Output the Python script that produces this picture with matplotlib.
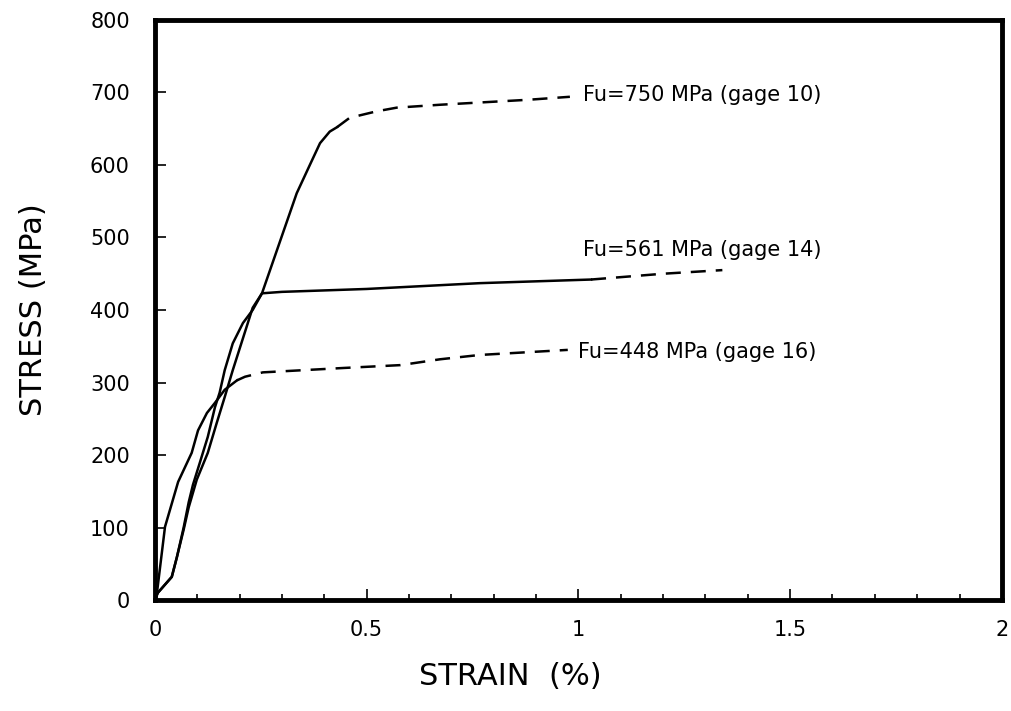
import matplotlib.pyplot as plt
from matplotlib.ticker import MultipleLocator

# gage 10 (Fu=750 MPa)
g10_x = [0, 0.007, 0.040, 0.052, 0.068, 0.080, 0.099, 0.125, 0.146, 0.165, 0.184, 0.231, 0.253, 0.335, 0.366, 0.390, 0.413, 0.430]
g10_y = [0, 10, 32, 59, 97, 128, 166, 203, 244, 280, 317, 403, 423, 561, 600, 630, 646, 652]
g10_dx = [0.430, 0.46, 0.524, 0.571, 0.673, 0.885, 0.98]
g10_dy = [652, 665, 674, 679, 683, 690, 694]

# gage 14 (Fu=561 MPa)
g14_x = [0, 0.007, 0.040, 0.052, 0.068, 0.080, 0.090, 0.106, 0.125, 0.142, 0.153, 0.165, 0.184, 0.208, 0.231, 0.253, 0.30, 0.50, 0.767, 1.03]
g14_y = [0, 10, 32, 59, 100, 135, 159, 189, 225, 266, 286, 317, 354, 382, 400, 423, 425, 429, 437, 442]
g14_dx = [1.03, 1.2, 1.34]
g14_dy = [442, 450, 455]

# gage 16 (Fu=448 MPa)
g16_x = [0, 0.005, 0.024, 0.055, 0.087, 0.102, 0.123, 0.142, 0.165, 0.194]
g16_y = [0, 10, 101, 163, 203, 234, 258, 272, 290, 303]
g16_dx = [0.194, 0.213, 0.255, 0.444, 0.58, 0.673, 0.767, 0.975]
g16_dy = [303, 308, 314, 320, 324, 332, 338, 345]

labels = ["Fu=750 MPa (gage 10)", "Fu=561 MPa (gage 14)", "Fu=448 MPa (gage 16)"]
label_x = [1.01, 1.01, 1.0]
label_y = [697, 483, 342]

fig = plt.figure(figsize=(10.12, 7.11), dpi=100)
ax = fig.add_axes([0.153, 0.156, 0.837, 0.816])

lw = 1.8
ax.plot(g10_x, g10_y, color='black', lw=lw)
ax.plot(g10_dx, g10_dy, color='black', lw=lw, dashes=(6, 4))
ax.plot(g14_x, g14_y, color='black', lw=lw)
ax.plot(g14_dx, g14_dy, color='black', lw=lw, dashes=(6, 4))
ax.plot(g16_x, g16_y, color='black', lw=lw)
ax.plot(g16_dx, g16_dy, color='black', lw=lw, dashes=(6, 4))

for t, x, y in zip(labels, label_x, label_y):
    ax.text(x, y, t, fontsize=15, va='center', ha='left')

ax.set_xlim(0, 2)
ax.set_ylim(0, 800)
ax.set_xticks([0, 0.5, 1, 1.5, 2])
ax.set_xticklabels(['0', '0.5', '1', '1.5', '2'])
ax.xaxis.set_minor_locator(MultipleLocator(0.1))
ax.yaxis.set_major_locator(MultipleLocator(100))

ax.tick_params(axis='both', which='major', direction='in', length=8, width=1.2, labelsize=15, pad=14)
ax.tick_params(axis='x', which='minor', direction='in', length=4, width=1.2)
ax.tick_params(axis='y', which='major', pad=18)
for s in ax.spines.values():
    s.set_linewidth(3.5)

ax.set_xlabel("STRAIN  (%)", fontsize=22, labelpad=16, x=0.42)
ax.set_ylabel("STRESS (MPa)", fontsize=22, labelpad=30)

fig.savefig("out.png", dpi=100)
